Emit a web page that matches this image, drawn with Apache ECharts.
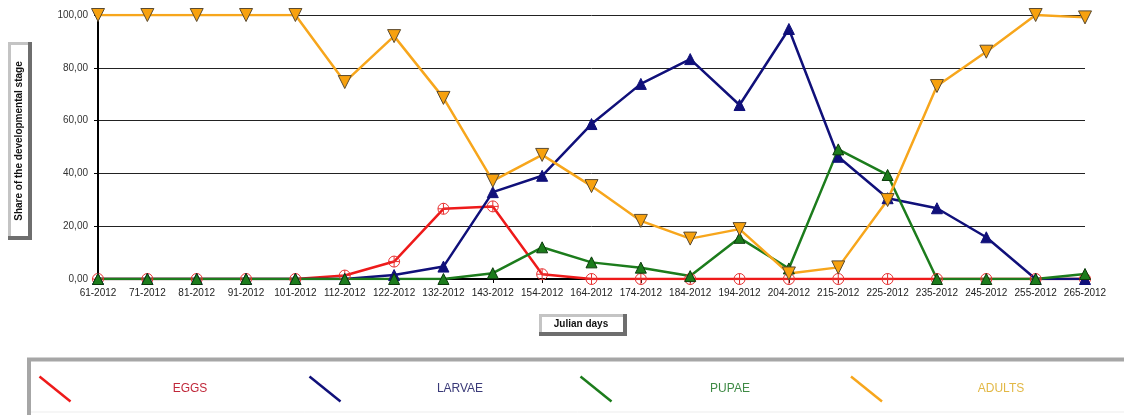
<!DOCTYPE html>
<html>
<head>
<meta charset="utf-8">
<script src="https://cdn.jsdelivr.net/npm/echarts@6/dist/echarts.min.js"></script>
<style>html,body{margin:0;padding:0;background:#fff;}#c{width:1124px;height:415px;}</style>
</head>
<body>
<div id="c"></div>
<script>
const categories = ['61-2012','71-2012','81-2012','91-2012','101-2012','112-2012','122-2012','132-2012','143-2012','154-2012','164-2012','174-2012','184-2012','194-2012','204-2012','215-2012','225-2012','235-2012','245-2012','255-2012','265-2012'];
const eggs   = [0,0,0,0,0,1.3,6.6,26.6,27.5,1.8,0,0,0,0,0,0,0,0,0,0,0];
const larvae = [0,0,0,0,0,0,1.5,4.7,32.9,39.1,58.7,73.9,83.3,65.9,94.7,46.3,30.6,26.8,15.8,0,0];
const pupae  = [0,0,0,0,0,0,0,0,2.2,12.0,6.3,4.3,1.1,15.6,4.0,49.1,39.4,0,0,0,1.9];
const adults = [100,100,100,100,100,74.6,92.0,68.6,37.2,47.0,35.2,22.0,15.3,18.9,2.1,4.4,29.9,73.1,86.1,100,99.1];
const seriesNames = ['EGGS','LARVAE','PUPAE','ADULTS'];
const yTicks = [0,20,40,60,80,100];

const colors = {EGGS:'#ee1a1a', LARVAE:'#10107a', PUPAE:'#1c7c1c', ADULTS:'#f7a61c'};
const textColors = {EGGS:'#c0283a', LARVAE:'#3a3a78', PUPAE:'#3f8a45', ADULTS:'#e2b845'};
const FONT = '"Liberation Sans", Arial, sans-serif';

const chart = echarts.init(document.getElementById('c'), null, {renderer:'canvas'});
const circlePlus = 'path://M0,10 A10,10 0 1,1 20,10 A10,10 0 1,1 0,10 Z M10,0 L10,20 M0,10 L20,10';

function bevelBox(x, y, w, h) {
  return [
    {type:'rect', shape:{x:x, y:y, width:w, height:h}, style:{fill:'#6e6e6e'}, silent:true},
    {type:'rect', shape:{x:x, y:y, width:w-4, height:h-4}, style:{fill:'#c4c4c4'}, silent:true},
    {type:'rect', shape:{x:x+3, y:y+3, width:w-7, height:h-7}, style:{fill:'#ffffff'}, silent:true}
  ];
}

const graphics = [];
// Y axis title box
graphics.push(...bevelBox(8, 42, 24, 198));
graphics.push({type:'text', x:19, y:141, rotation:Math.PI/2, silent:true,
  style:{text:'Share of the developmental stage', font:'bold 10px ' + FONT, fill:'#111', align:'center', verticalAlign:'middle'}});
// X axis title box
graphics.push(...bevelBox(539, 314, 88, 22));
graphics.push({type:'text', x:581, y:324, silent:true,
  style:{text:'Julian days', font:'bold 10px ' + FONT, fill:'#111', align:'center', verticalAlign:'middle'}});
// Legend box
graphics.push({type:'rect', shape:{x:29, y:359.5, width:1120, height:70}, style:{fill:'#fff', stroke:'#a6a6a6', lineWidth:4}, silent:true});
graphics.push({type:'line', shape:{x1:31, y1:412, x2:1124, y2:412}, style:{stroke:'#ededed', lineWidth:1}, silent:true});
const legX = [39.5, 309.5, 580.5, 851];
const legTextX = [190, 460, 730, 1001];
seriesNames.forEach((n, i) => {
  graphics.push({type:'line', shape:{x1:legX[i], y1:376.5, x2:legX[i]+31, y2:401.5}, style:{stroke:colors[n], lineWidth:2.5}, silent:true});
  graphics.push({type:'text', x:legTextX[i], y:389, silent:true,
    style:{text:n, font:'12px ' + FONT, fill:textColors[n], align:'center', verticalAlign:'middle'}});
});

const dataMap = {EGGS:eggs, LARVAE:larvae, PUPAE:pupae, ADULTS:adults};
const symbolDefs = {
  EGGS:   {symbol:circlePlus, size:11, rotate:0, fill:'rgba(0,0,0,0)', border:'#e83030', bw:1},
  LARVAE: {symbol:'triangle', size:11, rotate:0, fill:'#10107a', border:'#10107a', bw:1},
  PUPAE:  {symbol:'triangle', size:11, rotate:0, fill:'#1c7c1c', border:'#0b3a0b', bw:1},
  ADULTS: {symbol:'triangle', size:13, rotate:180, fill:'#f7a10e', border:'#5a4a30', bw:1}
};

const series = seriesNames.map(n => ({
  name:n, type:'line', data:dataMap[n],
  symbol:symbolDefs[n].symbol, symbolSize:symbolDefs[n].size, symbolRotate:symbolDefs[n].rotate,
  showAllSymbol:true, animation:false,
  lineStyle:{color:colors[n], width:2.5},
  itemStyle:{color:symbolDefs[n].fill, borderColor:symbolDefs[n].border, borderWidth:symbolDefs[n].bw},
  emphasis:{disabled:true}
}));

chart.setOption({
  animation:false,
  backgroundColor:'#fff',
  grid:{left:98, right:39, top:15, bottom:136, containLabel:false},
  xAxis:{
    type:'category', data:categories, boundaryGap:false,
    axisLine:{onZero:false, lineStyle:{color:'#000', width:2}},
    axisTick:{show:true, length:4, alignWithLabel:true, lineStyle:{color:'#000'}},
    axisLabel:{fontSize:10, fontFamily:FONT, color:'#222', margin:9, interval:0},
    splitLine:{show:false}
  },
  yAxis:{
    type:'value', min:yTicks[0], max:yTicks[yTicks.length-1], interval:20,
    axisLine:{show:true, lineStyle:{color:'#000', width:2}},
    axisTick:{show:true, length:4, lineStyle:{color:'#000'}},
    axisLabel:{fontSize:10, fontFamily:FONT, color:'#333', margin:10,
      formatter: v => v.toFixed(2).replace('.', ',')},
    splitLine:{show:true, lineStyle:{color:'#222', width:1}}
  },
  series:series,
  graphic:graphics
});
</script>
</body>
</html>
